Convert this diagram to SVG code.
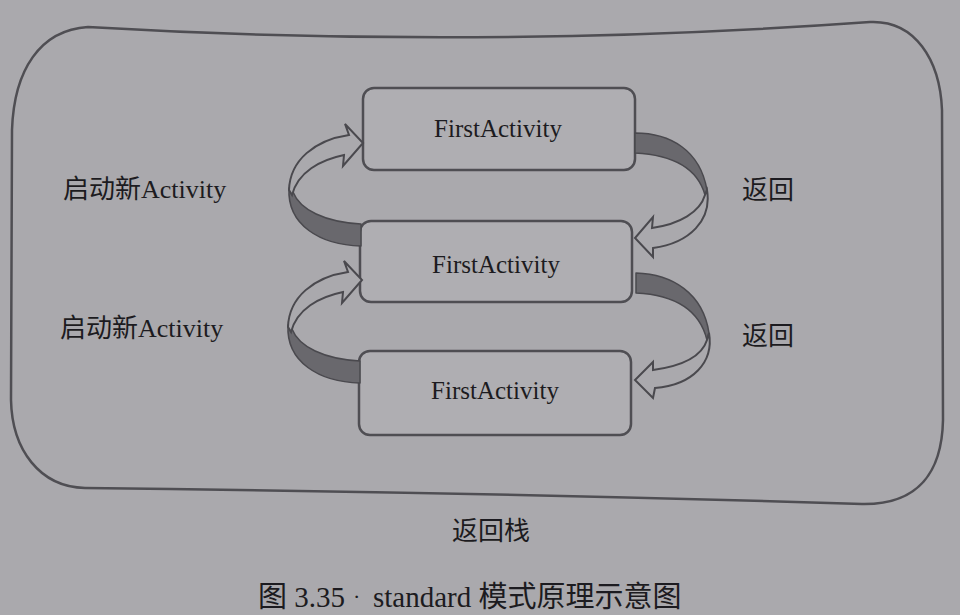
<svg xmlns="http://www.w3.org/2000/svg" width="960" height="615" viewBox="0 0 960 615">
<defs>
<style>
.bg{fill:#aaa9ad}
.outer{fill:none;stroke:#4f4e53;stroke-width:2.5}
.box{fill:#afaeb2;stroke:#4f4e53;stroke-width:2.5}
.lbl{font-family:"Liberation Serif","Noto Sans CJK SC",serif;fill:#1c1b20}
.node{font-size:25px;text-anchor:middle}
.side{font-size:26px}
.dark{fill:#69686d;stroke:#4a494e;stroke-width:1.5;stroke-linejoin:round}
.light{fill:#aaa9ad;stroke:#4a494e;stroke-width:2;stroke-linejoin:miter}
</style>
</defs>
<rect class="bg" x="0" y="0" width="960" height="615"/>
<g id="stack">
<path class="outer" d="M88,27 Q480,50 870,22 C915,20 940,60 942,110 L943,420 C942,470 920,505 862,504 Q470,492 85,488 C40,487 12,450 11,400 L12,130 C14,70 40,30 88,27 Z"/>
<text class="lbl side" x="452" y="540">返回栈</text>
</g>
<g id="box1">
<rect class="box" x="363" y="88" width="272" height="82" rx="11"/>
<text class="lbl node" x="498" y="137">FirstActivity</text>
</g>
<g id="box2">
<rect class="box" x="360" y="221" width="272" height="81" rx="11"/>
<text class="lbl node" x="496" y="273">FirstActivity</text>
</g>
<g id="box3">
<rect class="box" x="359" y="351" width="272" height="84" rx="11"/>
<text class="lbl node" x="495" y="399">FirstActivity</text>
</g>
<g id="connectors">
<g id="start1">
<path class="dark" d="M289,188 C287,225 320,245 361,246 L361,224 C325,222 300,210 293,192 Z"/>
<path class="light" d="M289,190 C290,160 315,140 349,135 L345,124 L363,143 L343,166 L344,155 C320,160 298,172 292,195 Z"/>
</g>
<g id="start2" transform="translate(-1,137)">
<path class="dark" d="M289,188 C287,225 320,245 361,246 L361,224 C325,222 300,210 293,192 Z"/>
<path class="light" d="M289,190 C290,160 315,140 349,135 L345,124 L363,143 L343,166 L344,155 C320,160 298,172 292,195 Z"/>
</g>
<g id="back1">
<path class="dark" d="M635,133 C670,133 700,150 707,190 L705,195 C698,170 675,155 635,153 Z"/>
<path class="light" d="M707,190 C712,220 690,243 653,248 L653,257 L635,238 L653,217 L652,228 C680,224 700,212 705,195 Z"/>
</g>
<g id="back2">
<path class="dark" d="M636,273 C672,274 703,293 709,333 L707,340 C700,312 678,295 636,293 Z"/>
<path class="light" d="M709,333 C714,362 693,385 655,388 L653,398 L635,380 L653,362 L653,370 C682,366 702,356 707,340 Z"/>
</g>
<text class="lbl side" x="63" y="198">启动新Activity</text>
<text class="lbl side" x="60" y="337">启动新Activity</text>
<text class="lbl side" x="742" y="199">返回</text>
<text class="lbl side" x="742" y="345">返回</text>
</g>
<g id="caption">
<text class="lbl" font-size="29" x="258" y="607">图 3.35</text>
<text class="lbl" font-size="22" x="353" y="604">·</text>
<text class="lbl" font-size="29" x="373" y="607">standard 模式原理示意图</text>
</g>
</svg>
